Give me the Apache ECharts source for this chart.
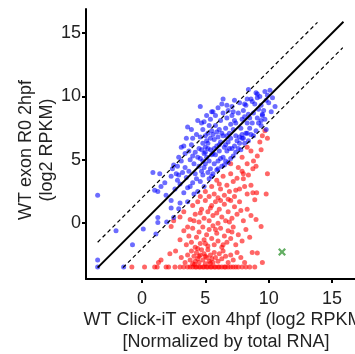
<!DOCTYPE html>
<html><head><meta charset="utf-8">
<script src="https://cdn.jsdelivr.net/npm/echarts@6/dist/echarts.min.js"></script>
<style>html,body{margin:0;padding:0;background:#fff}#c{width:355px;height:354px}</style>
</head><body><div id="c"></div>
<script>
const xTicks = [0, 5, 10, 15];
const yTicks = [0, 5, 10, 15];
const xTitle = 'WT Click-iT exon 4hpf (log2 RPKM)\n[Normalized by total RNA]';
const yTitle = 'WT exon R0 2hpf\n(log2 RPKM)';
const diagLine = [[-3.5, -3.5], [15.9, 15.9]];
const upperDash = [[-3.5, -1.5], [13.85, 15.85]];
const lowerDash = [[-1.5, -3.5], [15.85, 13.85]];
const greenPoint = [[11.05, -2.27]];
const bluePoints = [
[-3.5,2.2],[-3.5,-2.9],[-3.5,-3.45],[-1.45,-3.45],[-2.05,-0.6],[-0.75,-1.7],[0.1,-0.45],[1.1,-0.85],[1.25,0.45],[1.25,0.05],
[1.95,0.1],[2.3,1.2],[2.5,0.45],[2.9,1.15],[0.86,4.0],[1.4,3.9],[1.8,3.2],[1.5,2.9],[1.0,2.6],[1.25,2.5],
[1.9,2.2],[2.3,1.8],[2.4,4.3],[2.8,3.4],[2.9,5.2],[2.7,3.9],[2.5,4.6],[2.3,3.7],[3.1,6.0],[3.5,6.7],
[3.6,7.6],[4.6,9.2],[4.9,8.0],[5.5,8.8],[6.4,9.8],[7.3,9.7],[8.1,9.4],[8.4,10.55],[8.7,9.6],[9.1,10.2],
[9.1,9.9],[9.7,10.4],[10.1,10.5],[10.5,9.2],[9.7,8.2],[9.8,7.4],[5.6,8.8],[6.7,9.3],[9.5,8.6],[9.4,8.1],
[8.3,7.1],[7.9,6.7],[7.7,6.3],
[2.6,2.7],[2.8,4.5],[3.0,3.1],[3.1,4.9],[3.2,4.0],[3.3,2.4],[3.4,5.5],[3.5,3.6],[3.0,1.6],[3.3,6.1],
[2.9,3.8],[3.4,4.4],[3.6,2.8],[3.6,1.7],
[3.7,4.1],[3.8,5.0],[3.9,6.2],[4.0,3.2],[4.1,4.7],[4.2,5.6],[4.3,7.0],[4.4,2.5],[3.8,2.9],[4.0,6.7],
[4.2,3.9],[4.4,5.2],[4.5,5.9],[3.9,7.4],[4.1,2.3],[4.3,3.5],[4.5,4.5],[4.4,8.1],[3.7,5.7],[4.0,5.3],
[4.6,3.3],[4.7,4.1],[4.8,4.9],[4.9,5.5],[5.0,6.0],[5.1,6.5],[5.2,7.1],[5.3,7.7],[5.4,4.3],[4.6,6.8],
[4.7,5.8],[4.8,7.4],[4.9,2.9],[5.0,4.7],[5.1,5.2],[5.2,5.9],[5.3,3.5],[5.4,6.7],[5.5,5.4],[4.6,5.1],
[4.8,6.3],[5.0,6.9],[5.2,4.0],[5.4,8.2],[5.5,7.3],[5.1,8.5],[4.7,7.9],[5.3,4.9],[4.9,4.4],[5.5,3.7],
[5.0,5.6],[5.2,6.3],[4.8,3.8],[5.4,5.8],
[5.6,3.9],[5.7,4.7],[5.8,5.4],[5.9,6.1],[6.0,6.8],[6.1,7.4],[6.2,8.1],[6.3,4.5],[6.4,5.2],[5.6,7.0],
[5.7,5.9],[5.8,8.5],[5.9,4.2],[6.0,4.9],[6.1,5.7],[6.2,6.4],[6.3,7.1],[6.4,8.7],[6.5,6.0],[5.6,5.5],
[5.8,7.7],[6.0,9.1],[6.2,5.1],[6.4,6.9],[6.5,4.6],[5.7,6.6],[6.1,6.2],[6.3,9.4],[5.9,7.2],[6.0,4.3],
[6.6,4.9],[6.7,5.7],[6.8,6.4],[6.9,7.1],[7.0,7.8],[7.1,8.5],[7.2,5.3],[7.3,6.1],[7.4,6.9],[6.6,7.5],
[6.7,8.3],[6.8,4.8],[6.9,5.9],[7.0,6.7],[7.1,9.2],[7.2,7.4],[7.3,8.1],[7.4,5.6],[7.5,6.5],[6.6,6.2],
[6.8,8.9],[7.0,5.1],[7.2,8.8],[7.4,7.9],[6.7,6.9],[7.1,5.9],
[7.6,5.9],[7.7,6.8],[7.8,7.5],[7.9,8.2],[8.0,8.9],[8.1,6.3],[8.2,7.1],[8.3,7.9],[8.4,8.6],[7.6,8.7],
[7.8,5.8],[8.0,6.7],[8.2,9.3],[8.4,6.5],[8.5,7.5],[7.7,9.5],[7.9,7.0],[8.1,8.4],[8.3,9.8],[8.5,8.3],
[8.6,7.0],[8.7,7.9],[8.8,8.7],[8.9,9.4],[9.0,7.3],[9.1,8.3],[9.2,9.0],[9.3,10.0],[9.4,7.7],[8.6,9.8],
[8.8,6.9],[9.0,10.3],[9.2,7.9],[9.4,9.3],[9.5,8.5],
[9.6,8.9],[9.8,9.7],[10.0,9.5],[10.2,8.8],[9.9,10.1],[10.3,9.9]
];
const redPoints = [
[-0.8,-3.45],[0.2,-3.45],[1.0,-3.45],[1.2,-3.45],[1.9,-3.45],[2.1,-3.45],[2.6,-3.45],[3.0,-3.45],[3.3,-3.45],[3.6,-3.45],
[3.8,-3.45],[4.0,-3.45],[4.2,-3.45],[4.3,-3.45],[4.5,-3.45],[4.6,-3.45],[4.8,-3.45],[4.9,-3.45],[5.1,-3.45],[5.2,-3.45],
[5.4,-3.45],[5.5,-3.45],[5.7,-3.45],[5.8,-3.45],[6.0,-3.45],[6.1,-3.45],[6.3,-3.45],[6.5,-3.45],[6.6,-3.45],[6.8,-3.45],
[7.0,-3.45],[7.2,-3.45],[7.4,-3.45],[7.6,-3.45],[7.9,-3.45],[8.2,-3.45],[8.5,-3.45],[8.9,-3.45],
[1.3,-3.1],[1.5,-2.9],[2.2,-2.4],[2.65,-2.2],[3.1,-2.7],[3.4,-3.1],[3.6,-2.5],[3.8,-2.9],[3.9,-2.2],[4.0,-3.2],
[4.1,-2.6],[4.2,-3.0],[4.3,-2.3],[4.4,-2.8],[4.5,-3.1],[4.6,-2.5],[4.7,-2.1],[4.8,-2.9],[4.9,-2.4],[5.0,-3.2],
[5.1,-2.7],[5.2,-2.1],[5.3,-3.0],[5.4,-2.5],[5.5,-2.8],[5.6,-3.1],[5.7,-2.3],[5.8,-2.7],[6.0,-3.0],[6.1,-2.4],
[6.3,-2.8],[6.4,-2.2],[6.6,-2.6],[6.8,-3.1],[7.0,-2.5],[7.2,-2.9],[7.5,-2.3],[7.8,-2.7],[8.1,-3.1],[8.7,-2.3],
[9.1,-2.35],[9.5,-3.1],[4.5,-2.6],[5.0,-2.6],[5.4,-3.15],[4.15,-3.25],
[2.3,-0.25],[3.0,-1.3],[3.3,-0.6],[3.5,-1.7],[3.7,-1.0],[3.9,-1.5],[4.0,-0.4],[4.2,-1.9],[4.3,-1.1],[4.5,-0.7],
[4.6,-1.6],[4.8,-0.3],[4.9,-1.3],[5.1,-0.9],[5.2,-1.8],[5.3,-0.5],[5.5,-1.2],[5.6,-0.2],[5.7,-1.7],[5.9,-0.8],
[6.0,-1.4],[6.2,-0.4],[6.3,-1.9],[6.5,-1.0],[6.7,-1.5],[6.8,-0.6],[7.0,-1.2],[7.2,-0.3],[7.4,-1.7],[7.6,-0.9],
[7.9,-1.4],[8.2,-0.5],[8.5,-1.1],[9.4,-0.25],[3.6,-0.3],[4.4,-2.0],[5.0,-1.6],[5.8,-0.5],[6.4,-1.7],[7.1,-0.7],
[2.5,0.2],[3.0,0.5],[3.3,0.9],[3.8,0.3],[4.0,1.4],[4.2,0.7],[4.4,1.7],[4.5,0.1],[4.7,1.1],[4.9,0.4],
[5.0,1.8],[5.2,0.9],[5.3,0.2],[5.5,1.4],[5.6,0.6],[5.8,1.7],[6.0,0.0],[6.1,1.1],[6.3,0.5],[6.5,1.5],
[6.6,0.2],[6.8,0.9],[7.0,1.8],[7.1,0.4],[7.3,1.3],[7.5,0.7],[7.7,1.7],[8.0,0.2],[8.3,1.1],[8.6,0.6],
[8.9,1.85],[9.0,0.3],[4.6,0.8],[5.4,1.2],[6.2,1.8],[6.9,0.1],[7.8,1.0],[4.1,0.2],[5.9,0.8],
[4.6,2.1],[5.0,2.5],[5.3,2.1],[5.5,2.9],[5.7,2.3],[5.9,3.4],[6.0,2.0],[6.2,2.7],[6.4,3.7],[6.5,2.2],
[6.7,3.0],[6.9,2.5],[7.0,3.9],[7.2,3.3],[7.3,2.1],[7.5,3.55],[7.7,2.7],[7.9,4.1],[8.1,2.9],[8.3,2.3],
[8.6,3.0],[8.75,2.4],[9.05,2.4],[9.8,2.3],[9.9,3.9],[6.1,3.1],[6.8,1.9],[7.4,2.6],[8.0,3.5],[8.4,3.8],
[7.0,4.7],[7.6,4.4],[7.9,5.2],[8.3,4.7],[8.75,4.3],[9.1,5.3],[8.3,6.0],[9.3,6.4],[9.5,6.9],[9.7,7.3],
[9.9,6.7],[8.0,3.9],[8.6,5.7],[9.0,4.5],[9.4,5.8],[8.8,4.9]
];

const chart = echarts.init(document.getElementById('c'), null, {renderer: 'canvas'});
const font = 'Liberation Sans';
const axisCommon = {
  axisLine: {show: true, onZero: false, lineStyle: {color: '#000', width: 2}},
  axisTick: {show: true, length: 4, lineStyle: {color: '#000', width: 2}},
  splitLine: {show: false},
  nameMoveOverlap: false
};
chart.setOption({
  animation: false,
  backgroundColor: '#fff',
  grid: {left: 86, top: 9, width: 280, height: 270, outerBoundsMode: 'none', containLabel: false},
  xAxis: Object.assign({}, axisCommon, {
    type: 'value', min: -4.42, max: 17.68,
    axisTick: Object.assign({}, axisCommon.axisTick, {customValues: xTicks}),
    axisLabel: {customValues: xTicks, fontFamily: font, fontSize: 18, color: '#222', margin: 11},
    name: xTitle, nameLocation: 'middle', nameGap: 30,
    nameTextStyle: {fontFamily: font, fontSize: 18, color: '#222', lineHeight: 22}
  }),
  yAxis: Object.assign({}, axisCommon, {
    type: 'value', min: -4.4, max: 16.9,
    axisTick: Object.assign({}, axisCommon.axisTick, {customValues: yTicks}),
    axisLabel: {customValues: yTicks, fontFamily: font, fontSize: 18, color: '#222', margin: 5},
    name: yTitle, nameLocation: 'middle', nameGap: 28,
    nameTextStyle: {fontFamily: font, fontSize: 18, color: '#222', lineHeight: 21, padding: [0, 12, 0, 0]}
  }),
  series: [
    {type: 'scatter', data: redPoints, symbolSize: 5, itemStyle: {color: 'rgba(255,0,0,0.75)'}},
    {type: 'scatter', data: bluePoints, symbolSize: 5, itemStyle: {color: 'rgba(0,0,255,0.72)'}},
    {type: 'line', data: diagLine, symbol: 'none', lineStyle: {color: '#000', width: 2}},
    {type: 'line', data: upperDash, symbol: 'none', lineStyle: {color: '#000', width: 1.2, type: [4, 3]}},
    {type: 'line', data: lowerDash, symbol: 'none', lineStyle: {color: '#000', width: 1.2, type: [4, 3]}},
    {type: 'scatter', data: greenPoint, symbol: 'path://M2,0 L5,3 L8,0 L10,2 L7,5 L10,8 L8,10 L5,7 L2,10 L0,8 L3,5 L0,2 Z', symbolSize: 8, itemStyle: {color: '#3c9a3c'}}
  ]
});
</script></body></html>
